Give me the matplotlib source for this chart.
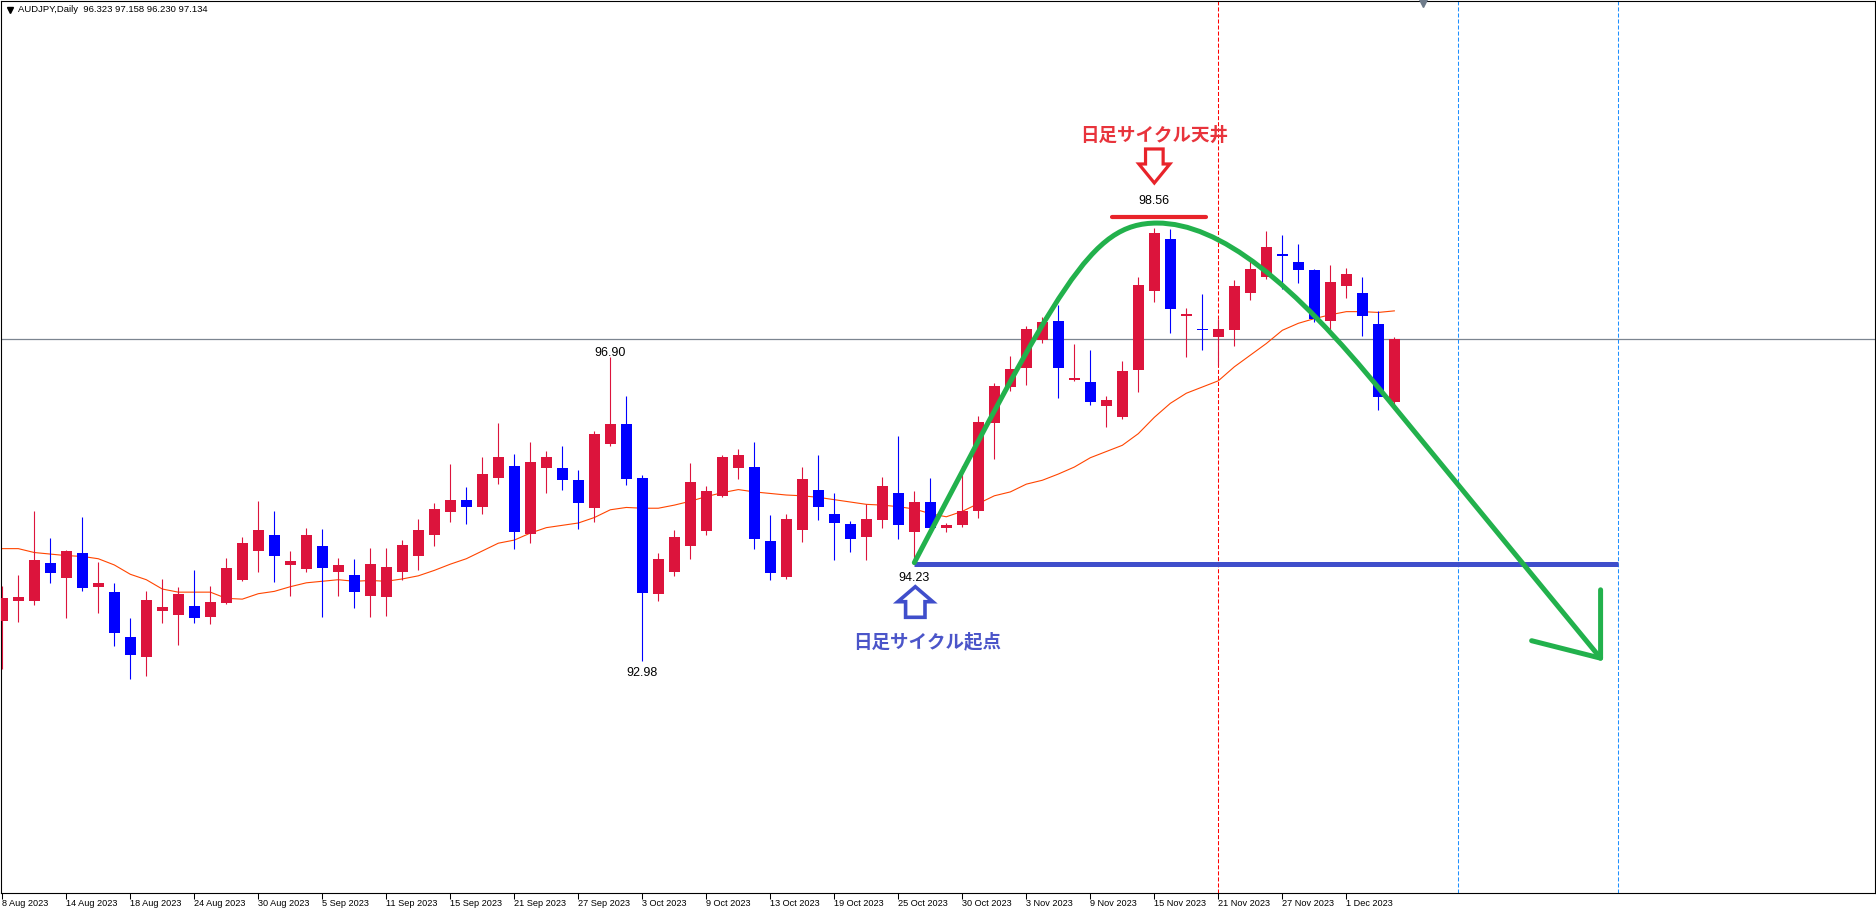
import numpy as np
import matplotlib
matplotlib.use("Agg")
import matplotlib.pyplot as plt
from matplotlib.path import Path
from matplotlib.patches import PathPatch, Polygon
from matplotlib import transforms

plt.rcParams['font.family'] = ['Liberation Sans', 'DejaVu Sans']
plt.rcParams['lines.scale_dashes'] = False

symbol = "AUDJPY,Daily"

# daily candles, 8 Aug 2023 .. 5 Dec 2023
opens = [93.50, 93.76, 93.76, 94.25, 94.05, 94.37, 93.94, 93.87, 93.29, 93.04,
         93.63, 93.58, 93.69, 93.55, 93.73, 94.03, 94.40, 94.61, 94.22, 94.17,
         94.46, 94.13, 94.09, 93.82, 93.81, 94.13, 94.34, 94.61, 94.90, 95.06,
         94.97, 95.34, 95.49, 94.62, 95.47, 95.47, 95.31, 94.95, 95.78, 96.03,
         95.34, 93.84, 94.13, 94.46, 94.66, 95.11, 95.47, 95.48, 94.53, 94.06,
         94.67, 95.19, 94.88, 94.75, 94.58, 94.80, 95.15, 94.64, 95.03, 94.69,
         94.73, 94.92, 96.05, 96.51, 96.75, 97.12, 97.36, 96.60, 96.57, 96.26,
         96.13, 96.73, 97.74, 98.42, 97.42, 97.26, 97.15, 97.25, 97.72, 97.93,
         98.22, 98.12, 98.02, 97.36, 97.81, 97.72, 97.32, 96.323]
highs = [93.95, 94.09, 94.91, 94.57, 94.41, 94.84, 94.26, 93.99, 93.54, 93.89,
         94.04, 93.94, 94.16, 93.95, 94.31, 94.58, 95.04, 94.91, 94.40, 94.70,
         94.68, 94.31, 94.30, 94.44, 94.44, 94.54, 94.81, 95.02, 95.52, 95.22,
         95.61, 96.05, 95.65, 95.80, 95.69, 95.75, 95.44, 95.94, 96.90, 96.39,
         95.38, 94.37, 94.67, 95.53, 95.24, 95.64, 95.71, 95.80, 94.86, 94.88,
         95.48, 95.64, 95.15, 94.78, 95.00, 95.35, 95.88, 95.17, 95.34, 94.76,
         95.49, 96.14, 96.56, 96.91, 97.30, 97.41, 97.57, 97.06, 96.99, 96.39,
         96.84, 97.92, 98.56, 98.55, 97.53, 97.71, 97.39, 97.89, 98.17, 98.52,
         98.47, 98.35, 98.03, 98.08, 98.04, 97.93, 97.49, 97.158]
lows = [92.88, 93.49, 93.70, 93.99, 93.54, 93.89, 93.60, 93.18, 92.75, 92.79,
        93.47, 93.19, 93.47, 93.46, 93.72, 94.01, 94.13, 94.00, 93.82, 94.13,
        93.55, 93.82, 93.67, 93.55, 93.56, 94.02, 94.15, 94.46, 94.77, 94.75,
        94.88, 95.26, 94.43, 94.50, 95.15, 95.19, 94.68, 94.77, 95.75, 95.25,
        92.98, 93.76, 94.08, 94.30, 94.60, 95.10, 95.33, 94.43, 94.02, 94.04,
        94.52, 94.80, 94.29, 94.39, 94.29, 94.69, 94.55, 94.23, 94.68, 94.64,
        94.71, 94.82, 95.58, 96.46, 96.54, 97.08, 96.37, 96.59, 96.28, 96.00,
        96.10, 96.44, 97.61, 97.21, 96.90, 96.99, 96.79, 97.04, 97.63, 97.90,
        97.77, 97.85, 97.35, 97.21, 97.66, 97.17, 96.22, 96.230]
closes = [93.79, 93.81, 94.28, 94.12, 94.40, 93.92, 93.99, 93.34, 93.06, 93.77,
          93.68, 93.85, 93.54, 93.74, 94.18, 94.50, 94.67, 94.34, 94.27, 94.61,
          94.18, 94.22, 93.87, 94.23, 94.19, 94.48, 94.67, 94.94, 95.06, 94.97,
          95.39, 95.61, 94.64, 95.55, 95.61, 95.31, 95.02, 95.91, 96.03, 95.33,
          93.86, 94.30, 94.58, 95.29, 95.17, 95.61, 95.64, 94.55, 94.12, 94.81,
          95.33, 94.96, 94.76, 94.56, 94.81, 95.24, 94.73, 95.03, 94.70, 94.74,
          94.91, 96.06, 96.52, 96.74, 97.26, 97.35, 96.75, 96.63, 96.32, 96.34,
          96.72, 97.82, 98.49, 97.51, 97.45, 97.25, 97.26, 97.81, 98.03, 98.31,
          98.19, 98.02, 97.39, 97.86, 97.96, 97.42, 96.38, 97.134]

# moving average line drawn on the chart
ma = [94.43, 94.43, 94.38, 94.36, 94.34, 94.33, 94.30, 94.22, 94.10, 94.03,
      93.91, 93.87, 93.87, 93.87, 93.79, 93.78, 93.85, 93.88, 93.94, 93.99,
      94.01, 94.03, 94.01, 94.02, 94.01, 94.04, 94.08, 94.15, 94.23, 94.30,
      94.40, 94.50, 94.54, 94.63, 94.70, 94.73, 94.76, 94.83, 94.93, 94.96,
      94.95, 94.95, 94.99, 95.04, 95.10, 95.15, 95.19, 95.16, 95.14, 95.12,
      95.11, 95.09, 95.06, 95.03, 95.00, 94.99, 94.97, 94.94, 94.88, 94.84,
      94.91, 95.01, 95.11, 95.16, 95.26, 95.31, 95.39, 95.48, 95.60, 95.68,
      95.76, 95.91, 96.12, 96.30, 96.43, 96.51, 96.59, 96.77, 96.92, 97.07,
      97.24, 97.33, 97.39, 97.44, 97.48, 97.48, 97.47, 97.49]

date_labels = ["8 Aug 2023", "14 Aug 2023", "18 Aug 2023", "24 Aug 2023", "30 Aug 2023",
               "5 Sep 2023", "11 Sep 2023", "15 Sep 2023", "21 Sep 2023", "27 Sep 2023",
               "3 Oct 2023", "9 Oct 2023", "13 Oct 2023", "19 Oct 2023", "25 Oct 2023",
               "30 Oct 2023", "3 Nov 2023", "9 Nov 2023", "15 Nov 2023", "21 Nov 2023",
               "27 Nov 2023", "1 Dec 2023"]

zigzag_high_bar = 38
zigzag_low_bar = 40
cycle_start_bar = 57
cycle_top_bar = 72
red_vline_bar = 76
blue_vline_bars = [91, 101]
top_text = "日足サイクル天井"
start_text = "日足サイクル起点"

# hand drawn green cycle curve: (bar, price) bezier nodes
curve_bars = [57.0, 66.11, 67.98, 72.17, 76.1, 80.67, 86.29, 99.89]
curve_prices = [94.25, 97.82, 98.62, 98.62, 98.62, 97.85, 96.43, 93.02]
arrow_bars = [95.58, 99.89, 99.89]
arrow_prices = [93.245, 93.02, 93.90]

W, H = 1876, 911
fig = plt.figure(figsize=(W / 100, H / 100), dpi=100)
ax = fig.add_axes([1 / W, (H - 893) / H, 1874 / W, 892 / H])
ax.set_xlim(-0.081, 117.04)
ax.set_ylim(89.998, 101.478)

n = len(opens)
x = np.arange(n)
o = np.array(opens)
c = np.array(closes)
col = np.where(c >= o, '#DC143C', '#0000FF')

ax.plot(x, ma, color='#FF4500', lw=0.8, zorder=2)
ax.vlines(x, lows, highs, colors=col, lw=0.8, zorder=3)
ax.bar(x, np.maximum(np.abs(c - o), 0.013), bottom=np.minimum(o, c), width=0.69,
       color=col, lw=0, zorder=3)

# current price and period separators
ax.axhline(closes[-1], color='#7C8590', lw=0.9, zorder=1)
ax.axvline(red_vline_bar, color='#FF0000', lw=0.75, ls=(0, (2.9, 1.45)), zorder=1)
for b in blue_vline_bars:
    ax.axvline(b, color='#1E90FF', lw=0.75, ls=(0, (2.9, 1.45)), zorder=1)

# cycle start level
ax.plot([cycle_start_bar, blue_vline_bars[1]], [lows[cycle_start_bar]] * 2,
        color='#3F4ECB', lw=3.6, solid_capstyle='butt', zorder=4)
# top bar
ax.plot([69.36, 75.23], [98.694, 98.694], color='#E8232A', lw=3.0,
        solid_capstyle='round', zorder=4)

codes = [Path.MOVETO, Path.CURVE4, Path.CURVE4, Path.CURVE4,
         Path.CURVE4, Path.CURVE4, Path.CURVE4, Path.LINETO]
green = PathPatch(Path(list(zip(curve_bars, curve_prices)), codes), fill=False,
                  edgecolor='#22B14C', lw=3.6, capstyle='round', joinstyle='round', zorder=5)
ax.add_patch(green)
ax.plot(arrow_bars, arrow_prices, color='#22B14C', lw=3.6,
        solid_capstyle='round', solid_joinstyle='round', zorder=5)


def hollow_arrow(xd, yd, sign, hw, sw, hh, length, color, lw):
    pts = [(0, 0), (hw, hh), (sw, hh), (sw, length), (-sw, length), (-sw, hh), (-hw, hh)]
    pts = [(px / 100, sign * py / 100) for px, py in pts]
    tr = fig.dpi_scale_trans + transforms.ScaledTranslation(xd, yd, ax.transData)
    ax.add_patch(Polygon(pts, closed=True, fill=False, edgecolor=color, lw=lw,
                         joinstyle='miter', transform=tr, zorder=6))


hollow_arrow(cycle_top_bar, 99.136, 1, 15.5, 8.8, 19, 34, '#E8232A', 2.3)
hollow_arrow(57.06, 93.94, -1, 17.5, 9.7, 15, 30.6, '#3F4ECB', 2.6)

ax.text(cycle_top_bar, 99.754, top_text, color='#E8343C', fontsize=13.3,
        fontweight='bold', family=['Noto Sans CJK JP'], ha='center', va='center', zorder=7)
ax.text(57.8, 93.237, start_text, color='#4B55C9', fontsize=13.3,
        fontweight='bold', family=['Noto Sans CJK JP'], ha='center', va='center', zorder=7)

ax.text(zigzag_high_bar, 96.91, f"{highs[zigzag_high_bar]:.2f}", fontsize=9,
        ha='center', va='baseline', zorder=7)
ax.text(zigzag_low_bar, 92.79, f"{lows[zigzag_low_bar]:.2f}", fontsize=9,
        ha='center', va='baseline', zorder=7)
ax.text(cycle_start_bar, 94.018, f"{lows[cycle_start_bar]:.2f}", fontsize=9,
        ha='center', va='baseline', zorder=7)
ax.text(cycle_top_bar, 98.862, f"{highs[cycle_top_bar]:.2f}", fontsize=9,
        ha='center', va='baseline', zorder=7)

# axes look
for s in ax.spines.values():
    s.set_linewidth(0.8)
    s.set_color('black')
ax.set_xticks(np.arange(0, len(date_labels) * 4, 4))
ax.set_xticklabels(date_labels, fontsize=6.6, ha='left')
ax.tick_params(axis='x', direction='out', length=4, width=0.75, pad=0.5)
ax.yaxis.tick_right()
ax.set_yticks(np.arange(90.024, 101.45, 0.4252))
ax.tick_params(axis='y', direction='out', length=3, width=0.75, labelright=False)

ax.plot([0.7588], [0.9972], marker='v', color='#6E7B8A', ms=6,
        transform=ax.transAxes, clip_on=False, zorder=8)

header = f"{symbol}  " + " ".join(f"{v:.3f}" for v in
                                  (opens[-1], highs[-1], lows[-1], closes[-1]))
fig.text(18 / W, 1 - 9 / H, header, fontsize=6.8, va='center', ha='left')
fig.lines.append(plt.Line2D([10 / W], [1 - 10 / H], marker='v', color='black', ms=4,
                            transform=fig.transFigure))

fig.savefig("out.png", dpi=100)
